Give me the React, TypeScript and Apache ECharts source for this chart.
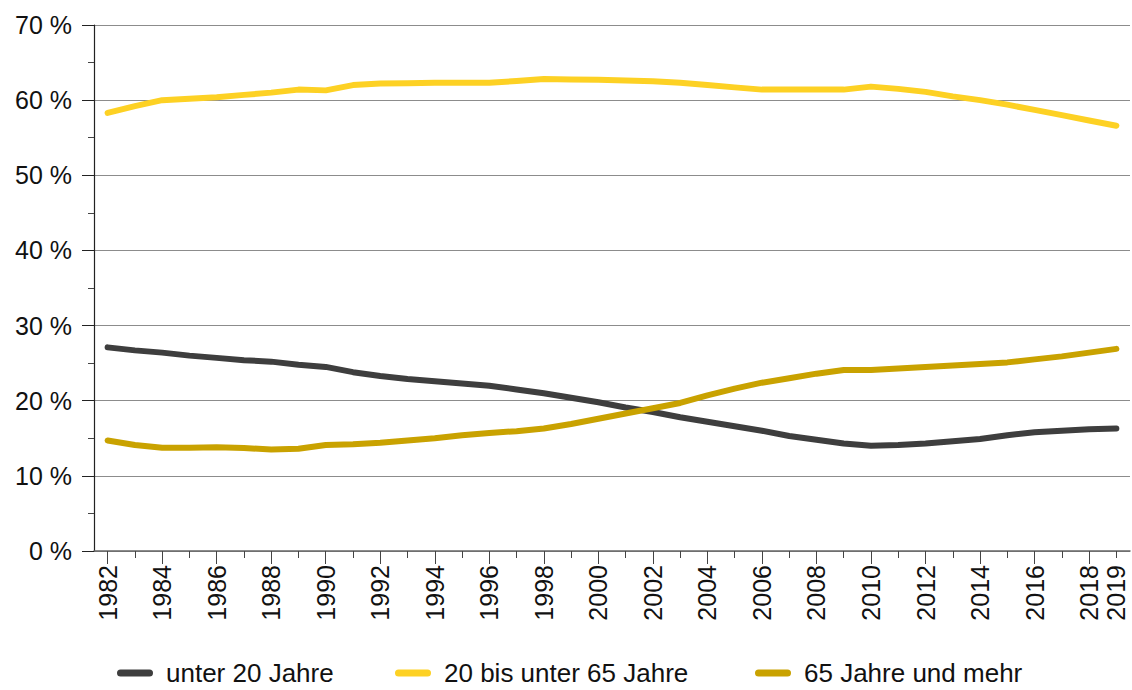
import React, { useEffect, useRef } from "react";
import * as echarts from "echarts";

const years = [
  "1982", "1983", "1984", "1985", "1986", "1987", "1988", "1989", "1990", "1991",
  "1992", "1993", "1994", "1995", "1996", "1997", "1998", "1999", "2000", "2001",
  "2002", "2003", "2004", "2005", "2006", "2007", "2008", "2009", "2010", "2011",
  "2012", "2013", "2014", "2015", "2016", "2017", "2018", "2019",
];

const under20 = [
  27.1, 26.7, 26.4, 26.0, 25.7, 25.4, 25.2, 24.8, 24.5, 23.8,
  23.3, 22.9, 22.6, 22.3, 22.0, 21.5, 21.0, 20.4, 19.8, 19.1,
  18.5, 17.8, 17.2, 16.6, 16.0, 15.3, 14.8, 14.3, 14.0, 14.1,
  14.3, 14.6, 14.9, 15.4, 15.8, 16.0, 16.2, 16.3,
];

const from20to65 = [
  58.3, 59.2, 60.0, 60.2, 60.4, 60.7, 61.0, 61.4, 61.3, 62.0,
  62.2, 62.25, 62.3, 62.3, 62.3, 62.55, 62.8, 62.75, 62.7, 62.6,
  62.5, 62.3, 62.0, 61.7, 61.4, 61.4, 61.4, 61.4, 61.8, 61.5,
  61.1, 60.5, 60.0, 59.4, 58.7, 58.0, 57.3, 56.6,
];

const over65 = [
  14.7, 14.1, 13.75, 13.75, 13.8, 13.7, 13.5, 13.6, 14.1, 14.2,
  14.4, 14.7, 15.0, 15.4, 15.7, 15.95, 16.3, 16.9, 17.6, 18.3,
  19.0, 19.7, 20.7, 21.6, 22.4, 23.0, 23.6, 24.1, 24.1, 24.3,
  24.5, 24.7, 24.9, 25.1, 25.5, 25.9, 26.4, 26.9,
];

const seriesNames = ["unter 20 Jahre", "20 bis unter 65 Jahre", "65 Jahre und mehr"];
const seriesColors = ["#3e3e3e", "#fdd124", "#c9a200"];
const legendLefts = [112, 390, 750];

const FONT = "'Liberation Sans', Arial, Helvetica, sans-serif";
const capsule = "path://M3.5,0 L32.5,0 A3.5,3.5 0 0 1 32.5,7 L3.5,7 A3.5,3.5 0 0 1 3.5,0 Z";

export default function App() {
  const ref = useRef<HTMLDivElement>(null);

  useEffect(() => {
    document.body.style.margin = "0";
    if (!ref.current) return;
    const chart = echarts.init(ref.current, null, { renderer: "svg" });
    const dataSets = [under20, from20to65, over65];

    chart.setOption({
      animation: false,
      backgroundColor: "#ffffff",
      textStyle: { fontFamily: FONT },
      grid: { left: 94, right: 2, top: 25, bottom: 139, containLabel: false },
      legend: seriesNames.map((n, i) => ({
        data: [n],
        left: legendLefts[i],
        top: 655,
        icon: capsule,
        itemWidth: 36,
        itemHeight: 7,
        itemGap: 0,
        selectedMode: false,
        textStyle: { fontSize: 26, color: "#111", fontFamily: FONT, padding: [0, 0, 0, 8] },
      })),
      xAxis: [
        {
          type: "category",
          data: years,
          position: "bottom",
          boundaryGap: true,
          axisLine: { show: true, lineStyle: { color: "#666", width: 1.5 } },
          axisTick: { show: true, alignWithLabel: true, interval: 0, length: 7, lineStyle: { color: "#444", width: 1 } },
          axisLabel: { show: false },
          splitLine: { show: false },
        },
        {
          type: "category",
          data: years,
          position: "bottom",
          boundaryGap: true,
          axisLine: { show: false },
          axisTick: {
            show: true,
            alignWithLabel: true,
            interval: (i: number) => i % 2 === 0,
            length: 13,
            lineStyle: { color: "#444", width: 1 },
          },
          axisLabel: {
            show: true,
            interval: (i: number, v: string) => i % 2 === 0 || v === "2019",
            rotate: 90,
            fontSize: 25,
            color: "#111",
            margin: 14,
            fontFamily: FONT,
          },
          splitLine: { show: false },
        },
      ],
      yAxis: {
        type: "value",
        min: 0,
        max: 70,
        interval: 10,
        axisLine: { show: true, lineStyle: { color: "#222", width: 1.2 } },
        axisTick: { show: true, inside: false, length: 12, lineStyle: { color: "#222", width: 1 } },
        minorTick: { show: true, splitNumber: 2, length: 6, lineStyle: { color: "#444", width: 1 } },
        splitLine: { show: true, lineStyle: { color: "#8c8c8c", width: 1.2 } },
        axisLabel: { formatter: "{value} %", fontSize: 25, color: "#111", margin: 22, fontFamily: FONT },
      },
      series: seriesNames.map((n, i) => ({
        name: n,
        type: "line",
        xAxisIndex: 0,
        data: dataSets[i],
        symbol: "none",
        smooth: false,
        color: seriesColors[i],
        itemStyle: { color: seriesColors[i] },
        lineStyle: { color: seriesColors[i], width: 6, cap: "round", join: "round" },
        z: 2 + i,
      })),
    });

    return () => chart.dispose();
  }, []);

  return <div ref={ref} style={{ width: 1132, height: 690 }} />;
}
